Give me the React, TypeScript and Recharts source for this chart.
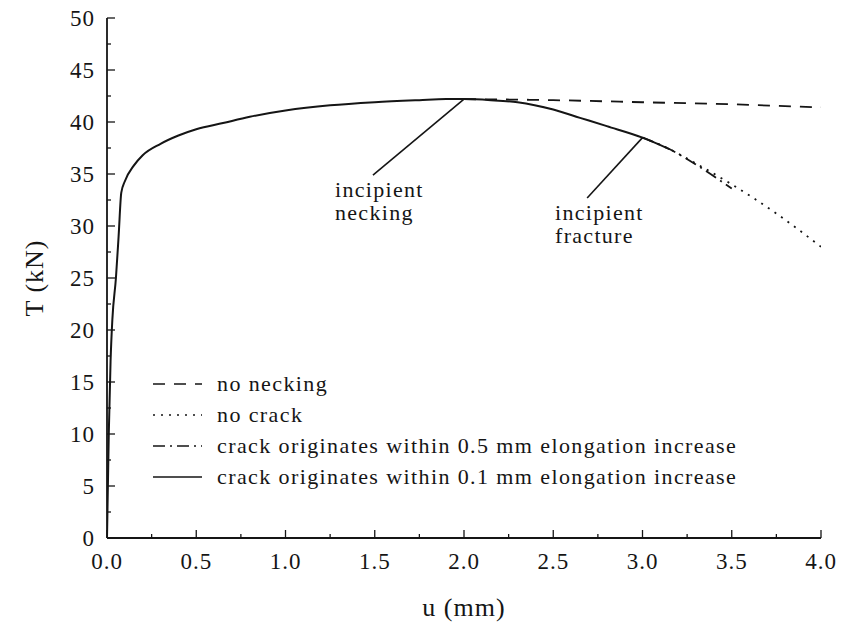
import { LineChart, Line, XAxis, YAxis, ReferenceLine } from "recharts";

// crack originates within 0.1 mm elongation increase (also the common curve up to necking)
const uSolid = [0, 0.01, 0.02, 0.03, 0.05, 0.065, 0.08, 0.1, 0.15, 0.2, 0.3, 0.4, 0.5, 0.65, 0.8, 1.0, 1.25, 1.5, 1.75, 1.9, 2.0, 2.15, 2.3, 2.5, 2.65, 2.8, 3.0, 3.15];
const tSolid = [0, 10, 17, 21, 25, 29, 33.2, 34.3, 35.8, 36.8, 37.9, 38.7, 39.3, 39.9, 40.5, 41.1, 41.6, 41.9, 42.1, 42.2, 42.2, 42.1, 41.9, 41.2, 40.4, 39.6, 38.5, 37.4];

// no necking
const uNoNeck = [2.0, 2.5, 3.0, 3.5, 4.0];
const tNoNeck = [42.2, 42.1, 41.9, 41.7, 41.4];

// no crack
const uNoCrack = [3.0, 3.15, 3.3, 3.5, 3.75, 4.0];
const tNoCrack = [38.5, 37.4, 36.0, 34.0, 31.2, 28.0];

// crack originates within 0.5 mm elongation increase
const uCrack05 = [3.0, 3.15, 3.3, 3.5];
const tCrack05 = [38.5, 37.4, 35.9, 33.6];

const seriesNames = [
  "no necking",
  "no crack",
  "crack originates within 0.5 mm elongation increase",
  "crack originates within 0.1 mm elongation increase",
];

const xTicks = [0, 0.25, 0.5, 0.75, 1, 1.25, 1.5, 1.75, 2, 2.25, 2.5, 2.75, 3, 3.25, 3.5, 3.75, 4];
const yTicks = [0, 2.5, 5, 7.5, 10, 12.5, 15, 17.5, 20, 22.5, 25, 27.5, 30, 32.5, 35, 37.5, 40, 42.5, 45, 47.5, 50];

const zip = (u: number[], t: number[]) => u.map((v, i) => ({ u: v, T: t[i] }));

const FONT = "'Liberation Serif', 'Times New Roman', serif";
const INK = "#151515";
const dashes = ["12 9", "2 6", "12 5 2 5", undefined];

const isMajor = (v: number, step: number) => Math.abs(v / step - Math.round(v / step)) < 1e-6;

function BottomTick({ x, y, payload }: any) {
  const major = isMajor(payload.value, 0.5);
  return (
    <g>
      <line x1={x} y1={y} x2={x} y2={y - (major ? 8 : 4)} stroke={INK} strokeWidth={1.3} />
      {major && (
        <text x={x} y={y + 31} textAnchor="middle" fontFamily={FONT} fontSize={23} letterSpacing={1} fill={INK}>
          {payload.value.toFixed(1)}
        </text>
      )}
    </g>
  );
}

function TopTick({ x, y, payload }: any) {
  const major = isMajor(payload.value, 0.5);
  return <line x1={x} y1={y} x2={x} y2={y + (major ? 8 : 4)} stroke={INK} strokeWidth={1.3} />;
}

function LeftTick({ x, y, payload }: any) {
  const major = isMajor(payload.value, 5);
  return (
    <g>
      <line x1={x} y1={y} x2={x + (major ? 8 : 4)} y2={y} stroke={INK} strokeWidth={1.3} />
      {major && (
        <text x={x - 12} y={y + 8} textAnchor="end" fontFamily={FONT} fontSize={23} letterSpacing={1} fill={INK}>
          {payload.value}
        </text>
      )}
    </g>
  );
}

function RightTick({ x, y, payload }: any) {
  const major = isMajor(payload.value, 5);
  return <line x1={x} y1={y} x2={x - (major ? 8 : 4)} y2={y} stroke={INK} strokeWidth={1.3} />;
}

const noteStyle: React.CSSProperties = {
  position: "absolute",
  fontFamily: FONT,
  fontSize: 22,
  letterSpacing: 1.3,
  lineHeight: "23px",
  color: INK,
  whiteSpace: "nowrap",
};

export default function App() {
  return (
    <div style={{ position: "absolute", left: 0, top: 0, width: 843, height: 632, background: "#fff" }}>
      <LineChart width={843} height={632} margin={{ top: 18, right: 22, left: 0, bottom: 0 }}>
        <XAxis
          dataKey="u"
          type="number"
          domain={[0, 4]}
          ticks={xTicks}
          interval={0}
          height={94}
          tickSize={0}
          tickMargin={0}
          tickLine={false}
          tick={<BottomTick />}
          axisLine={{ stroke: INK, strokeWidth: 1.8 }}
          allowDataOverflow
          label={{ value: "u (mm)", position: "insideBottom", offset: 16, fontFamily: FONT, fontSize: 26, fill: INK, letterSpacing: 1 }}
        />
        <XAxis
          xAxisId="top"
          orientation="top"
          type="number"
          domain={[0, 4]}
          ticks={xTicks}
          interval={0}
          height={0}
          tickSize={0}
          tickMargin={0}
          tickLine={false}
          tick={<TopTick />}
          axisLine={{ stroke: INK, strokeWidth: 1.8 }}
        />
        <YAxis
          type="number"
          domain={[0, 50]}
          ticks={yTicks}
          interval={0}
          width={107}
          tickSize={0}
          tickMargin={0}
          tickLine={false}
          tick={<LeftTick />}
          axisLine={{ stroke: INK, strokeWidth: 1.8 }}
          allowDataOverflow
          label={{ value: "T (kN)", angle: -90, position: "insideLeft", offset: 34, fontFamily: FONT, fontSize: 26, fill: INK, letterSpacing: 1, style: { textAnchor: "middle" } }}
        />
        <YAxis
          yAxisId="right"
          orientation="right"
          type="number"
          domain={[0, 50]}
          ticks={yTicks}
          interval={0}
          width={0}
          tickSize={0}
          tickMargin={0}
          tickLine={false}
          tick={<RightTick />}
          axisLine={{ stroke: INK, strokeWidth: 1.8 }}
        />
        <ReferenceLine segment={[{ x: 1.49, y: 34.9 }, { x: 2.0, y: 42.2 }]} stroke={INK} strokeWidth={1.6} />
        <ReferenceLine segment={[{ x: 2.69, y: 32.7 }, { x: 3.0, y: 38.5 }]} stroke={INK} strokeWidth={1.6} />
        <Line data={zip(uNoNeck, tNoNeck)} dataKey="T" name={seriesNames[0]} type="monotone" stroke={INK} strokeWidth={1.8} strokeDasharray={dashes[0]} dot={false} activeDot={false} isAnimationActive={false} />
        <Line data={zip(uNoCrack, tNoCrack)} dataKey="T" name={seriesNames[1]} type="monotone" stroke={INK} strokeWidth={1.8} strokeDasharray={dashes[1]} dot={false} activeDot={false} isAnimationActive={false} />
        <Line data={zip(uCrack05, tCrack05)} dataKey="T" name={seriesNames[2]} type="monotone" stroke={INK} strokeWidth={1.8} strokeDasharray={dashes[2]} dot={false} activeDot={false} isAnimationActive={false} />
        <Line data={zip(uSolid, tSolid)} dataKey="T" name={seriesNames[3]} type="monotone" stroke={INK} strokeWidth={2} dot={false} activeDot={false} isAnimationActive={false} />
      </LineChart>

      {/* legend inside the plot, lower left */}
      <div style={{ position: "absolute", left: 153, top: 368, fontFamily: FONT, fontSize: 22, letterSpacing: 1.4, color: INK }}>
        {seriesNames.map((name, i) => (
          <div key={name} style={{ display: "flex", alignItems: "center", height: 31 }}>
            <svg width={64} height={10}>
              <line x1={0} y1={5} x2={49} y2={5} stroke={INK} strokeWidth={1.6} strokeDasharray={dashes[i]} />
            </svg>
            <span style={{ whiteSpace: "nowrap" }}>{name}</span>
          </div>
        ))}
      </div>

      <div style={{ ...noteStyle, left: 335, top: 178 }}>
        incipient
        <br />
        necking
      </div>
      <div style={{ ...noteStyle, left: 555, top: 201 }}>
        incipient
        <br />
        fracture
      </div>
    </div>
  );
}
